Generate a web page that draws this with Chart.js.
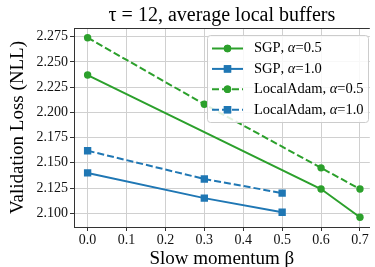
<!DOCTYPE html>
<html>
<head>
<meta charset="utf-8">
<script src="https://cdn.jsdelivr.net/npm/chart.js@4"></script>
<style>
  html, body { margin: 0; padding: 0; background: #fff; }
  #wrap { width: 375px; height: 267px; position: relative; }
</style>
</head>
<body>
<div id="wrap"><canvas id="loss-chart"></canvas></div>
<script>
const seriesLabels = ['SGP, α=0.5', 'SGP, α=1.0', 'LocalAdam, α=0.5', 'LocalAdam, α=1.0'];

const betaSgp05 = [0.0, 0.6, 0.7];
const lossSgp05 = [2.237, 2.124, 2.096];

const betaSgp10 = [0.0, 0.3, 0.5];
const lossSgp10 = [2.140, 2.115, 2.101];

const betaAdam05 = [0.0, 0.3, 0.6, 0.7];
const lossAdam05 = [2.274, 2.208, 2.145, 2.124];

const betaAdam10 = [0.0, 0.3, 0.5];
const lossAdam10 = [2.162, 2.134, 2.120];

const xTicks = [0.0, 0.1, 0.2, 0.3, 0.4, 0.5, 0.6, 0.7];
const yTicks = [2.100, 2.125, 2.150, 2.175, 2.200, 2.225, 2.250, 2.275];

const green = '#2ca02c';
const blue = '#1f77b4';
const serif = "'Liberation Serif', 'DejaVu Serif', serif";

function pts(xs, ys) {
  return xs.map((x, i) => ({x: x, y: ys[i]}));
}

// legend drawn inside the axes, on top of the lines
const boxLegend = {
  id: 'boxLegend',
  afterDraw(chart) {
    const ctx = chart.ctx;
    const a = chart.chartArea;
    const left = a.left + 133, top = a.top + 7, w = 161, h = 87;
    ctx.save();
    ctx.beginPath();
    ctx.roundRect(left + 0.5, top + 0.5, w, h, 3);
    ctx.fillStyle = 'rgba(255,255,255,0.85)';
    ctx.fill();
    ctx.strokeStyle = '#cccccc';
    ctx.lineWidth = 1;
    ctx.stroke();

    chart.data.datasets.forEach((ds, i) => {
      const y = top + 13.5 + i * 20.4;
      ctx.beginPath();
      ctx.setLineDash(ds.borderDash || []);
      ctx.strokeStyle = ds.borderColor;
      ctx.lineWidth = ds.borderWidth;
      ctx.moveTo(left + 5, y);
      ctx.lineTo(left + 36, y);
      ctx.stroke();
      ctx.setLineDash([]);
      ctx.fillStyle = ds.borderColor;
      Chart.helpers.drawPoint(ctx, {pointStyle: ds.pointStyle, radius: ds.pointRadius, rotation: 0, borderWidth: 0}, left + 20.5, y);
      ctx.fill();

      // label, with the alpha in italic
      let tx = left + 47;
      ctx.fillStyle = '#000';
      ctx.textBaseline = 'middle';
      ctx.textAlign = 'left';
      for (const ch of ds.label) {
        ctx.font = (ch === 'α' ? 'italic ' : '') + '14.5px ' + serif;
        ctx.fillText(ch, tx, y);
        tx += ctx.measureText(ch).width;
      }
    });
    ctx.restore();
  }
};

// top spine
const topSpine = {
  id: 'topSpine',
  beforeDatasetsDraw(chart) {
    const ctx = chart.ctx, a = chart.chartArea;
    ctx.save();
    ctx.strokeStyle = '#333';
    ctx.lineWidth = 1;
    ctx.beginPath();
    ctx.moveTo(a.left, a.top + 0.5);
    ctx.lineTo(a.right, a.top + 0.5);
    ctx.stroke();
    ctx.restore();
  }
};

const ctxLoss = document.getElementById('loss-chart').getContext('2d');

const lossChart = new Chart(ctxLoss, {
  type: 'line',
  data: {
    datasets: [{
      label: seriesLabels[0],
      data: pts(betaSgp05, lossSgp05),
      borderColor: green,
      backgroundColor: green,
      borderWidth: 2,
      pointStyle: 'circle',
      pointRadius: 3.7,
      pointBorderWidth: 0
    },
    {
      label: seriesLabels[1],
      data: pts(betaSgp10, lossSgp10),
      borderColor: blue,
      backgroundColor: blue,
      borderWidth: 2,
      pointStyle: 'rect',
      pointRadius: 5.2,
      pointBorderWidth: 0
    },
    {
      label: seriesLabels[2],
      data: pts(betaAdam05, lossAdam05),
      borderColor: green,
      backgroundColor: green,
      borderWidth: 2,
      borderDash: [7, 3],
      pointStyle: 'circle',
      pointRadius: 3.7,
      pointBorderWidth: 0
    },
    {
      label: seriesLabels[3],
      data: pts(betaAdam10, lossAdam10),
      borderColor: blue,
      backgroundColor: blue,
      borderWidth: 2,
      borderDash: [7, 3],
      pointStyle: 'rect',
      pointRadius: 5.2,
      pointBorderWidth: 0
    }]
  },
  options: {
    responsive: true,
    maintainAspectRatio: false,
    animation: false,
    devicePixelRatio: 1,
    layout: { padding: 0 },
    elements: { line: { tension: 0 } },
    scales: {
      x: {
        type: 'linear',
        min: -0.035,
        max: 0.7253,
        afterBuildTicks: (s) => { s.ticks = xTicks.map(v => ({value: v})); },
        afterFit: (s) => { s.height = 40; },
        ticks: {
          color: '#111',
          padding: 1,
          font: { family: serif, size: 14 },
          callback: (v) => v.toFixed(1)
        },
        grid: { color: '#d0d0d0', tickColor: '#333', tickLength: 4 },
        border: { color: '#333', width: 1 },
        title: {
          display: true,
          text: 'Slow momentum β',
          color: '#000',
          font: { family: serif, size: 19, lineHeight: 0.8 },
          padding: { top: 0, bottom: 0 }
        }
      },
      y: {
        min: 2.0864,
        max: 2.2836,
        afterBuildTicks: (s) => { s.ticks = yTicks.map(v => ({value: v})); },
        afterFit: (s) => { s.width = 74; },
        ticks: {
          color: '#111',
          padding: 2,
          font: { family: serif, size: 14 },
          callback: (v) => v.toFixed(3)
        },
        grid: { color: '#d0d0d0', tickColor: '#333', tickLength: 4 },
        border: { color: '#333', width: 1 },
        title: {
          display: true,
          text: 'Validation Loss (NLL)',
          color: '#000',
          font: { family: serif, size: 19, lineHeight: 1.2 },
          padding: { top: 7, bottom: 0 }
        }
      }
    },
    plugins: {
      legend: { display: false },
      tooltip: { enabled: false },
      title: {
        display: true,
        fullSize: false,
        text: 'τ = 12, average local buffers',
        color: '#000',
        font: { family: serif, size: 20, weight: 'normal', lineHeight: 1.2 },
        padding: { top: 4, bottom: 0 }
      }
    }
  },
  plugins: [topSpine, boxLegend]
});
</script>
</body>
</html>
